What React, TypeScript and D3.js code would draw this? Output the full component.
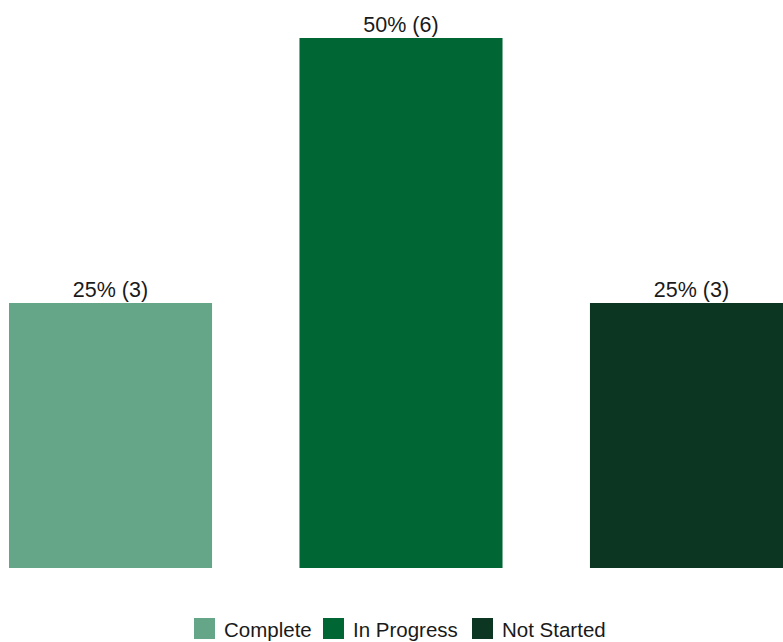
import React from "react";
import * as d3 from "d3";

const categories = ["Complete", "In Progress", "Not Started"];
const counts = [3, 6, 3];
const percents = [25, 50, 25];
const colors = ["#66a688", "#006633", "#0c3522"];

const W = 783;
const H = 642;

export default function App() {
  const x = d3
    .scaleBand<string>()
    .domain(categories)
    .range([9, 793])
    .paddingInner(0.301)
    .paddingOuter(0);
  const y = d3.scaleLinear().domain([0, 6]).range([568, 38]);

  const legendX = [194, 323, 472];
  const font = "Arial, 'Liberation Sans', sans-serif";

  return (
    <svg
      width={W}
      height={H}
      style={{ position: "absolute", left: 0, top: 0, background: "#fff" }}
      fontFamily={font}
    >
      {categories.map((c, i) => (
        <g key={c}>
          <rect
            x={x(c)!}
            y={y(counts[i])}
            width={x.bandwidth()}
            height={y(0) - y(counts[i])}
            fill={colors[i]}
          />
          <text
            x={x(c)! + x.bandwidth() / 2}
            y={y(counts[i]) - 6.5}
            textAnchor="middle"
            fontSize={21.5}
            fill="#1a1a1a"
          >
            {`${percents[i]}% (${counts[i]})`}
          </text>
        </g>
      ))}
      {categories.map((c, i) => (
        <g key={"l" + c} transform={`translate(${legendX[i]},618)`}>
          <rect width={21} height={21} fill={colors[i]} />
          <text x={30} y={19} fontSize={20.5} fill="#1a1a1a">
            {c}
          </text>
        </g>
      ))}
    </svg>
  );
}
